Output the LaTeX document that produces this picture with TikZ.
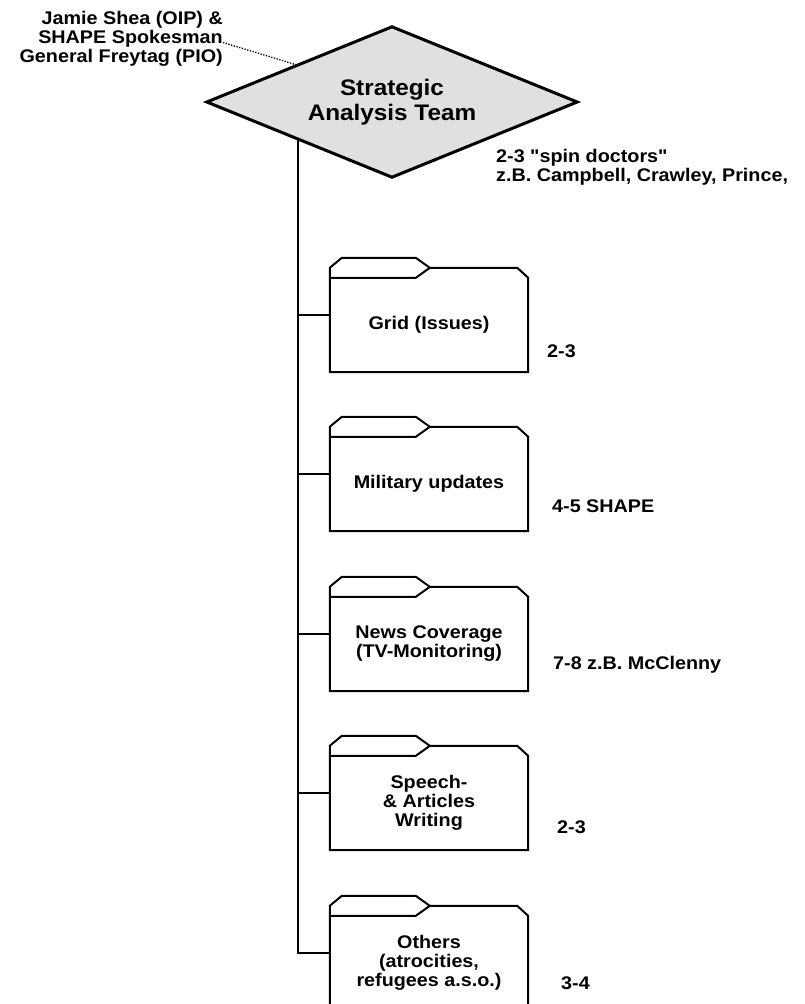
\documentclass[tikz,border=0pt]{standalone}
\usepackage{fontspec}
\setmainfont{Liberation Sans}[FakeStretch=1.08, Ligatures=TeXOff]
\usetikzlibrary{calc,backgrounds}
\definecolor{diafill}{HTML}{E0E0E0}
\newcommand{\smalllab}{\fontsize{18.3}{19}\selectfont\bfseries}
\newcommand{\titlelab}{\fontsize{22.5}{25}\selectfont\bfseries}
\tikzset{
  x=1pt, y=-1pt,
  team/.style={minimum width=370pt, minimum height=150pt, inner sep=0pt, align=center, font=\titlelab},
  teamline/.style={draw, line width=3pt, fill=diafill, line join=miter},
  folder/.style={minimum width=198pt, minimum height=94pt, inner sep=0pt, align=center, font=\smalllab},
  folderline/.style={line width=2pt, line join=miter},
  trunkline/.style={line width=2pt},
  note/.style={inner sep=0pt, font=\smalllab},
  dotline/.style={line width=1.3pt, dash pattern=on 1.3pt off 1.5pt}
}
\begin{document}
\begin{tikzpicture}
\useasboundingbox (0,0) rectangle (805,1004);
\clip (0,0) rectangle (805,1004);
\node[team] (sat) at (392,102) {Strategic\\Analysis Team};
\begin{scope}[on background layer]
  \path[teamline] (sat.west) -- (sat.north) -- (sat.east) -- (sat.south) -- cycle;
\end{scope}
\node[note, align=right, anchor=east] (jamie) at (223,38.5) {Jamie Shea (OIP) \&\\SHAPE Spokesman\\General Freytag (PIO)};
\node[note, align=left, anchor=west] (spin) at (496,167.5) {2-3 "spin doctors"\\z.B. Campbell, Crawley, Prince,};
\draw[dotline] ([yshift=-4pt]jamie.east) -- ($(sat.west)!0.49!(sat.north)$);

\node[folder] (grid) at (429,325) {Grid (Issues)};
\node[folder] (mil) at (429,484) {Military updates};
\node[folder] (news) at (429,644) {News Coverage\\(TV-Monitoring)};
\node[folder] (speech) at (429,803) {Speech-\\\& Articles\\Writing};
\node[folder] (others) at (429,963) {Others\\(atrocities,\\refugees a.s.o.)};

\foreach \n in {grid,mil,news,speech,others}{
  \draw[folderline] (\n.south west) -- ($(\n.north west)+(0,-10)$) -- ++(12,-10) -- ++(74,0) -- ++(14,10) -- ($(\n.north east)+(-11,-10)$) -- (\n.north east) -- (\n.south east) -- cycle;
  \draw[folderline] (\n.north west) -- ++(86,0) -- ++(14,-10);
  \coordinate (\n c) at ([yshift=10pt]\n.west);
}

\coordinate (ttop) at ($(sat.west)!0.492!(sat.south)$);
\draw[trunkline] (ttop) |- (othersc);
\foreach \n in {grid,mil,news,speech}{
  \draw[trunkline] (ttop |- \n c) -- (\n c);
}

\node[note, anchor=west] (n1) at (547,351) {2-3};
\node[note, anchor=west] (n2) at (552,506) {4-5 SHAPE};
\node[note, anchor=west] (n3) at (553,665) {7-8 z.B. McClenny};
\node[note, anchor=west] (n4) at (557,827) {2-3};
\node[note, anchor=west] (n5) at (561,983) {3-4};
\end{tikzpicture}
\end{document}
